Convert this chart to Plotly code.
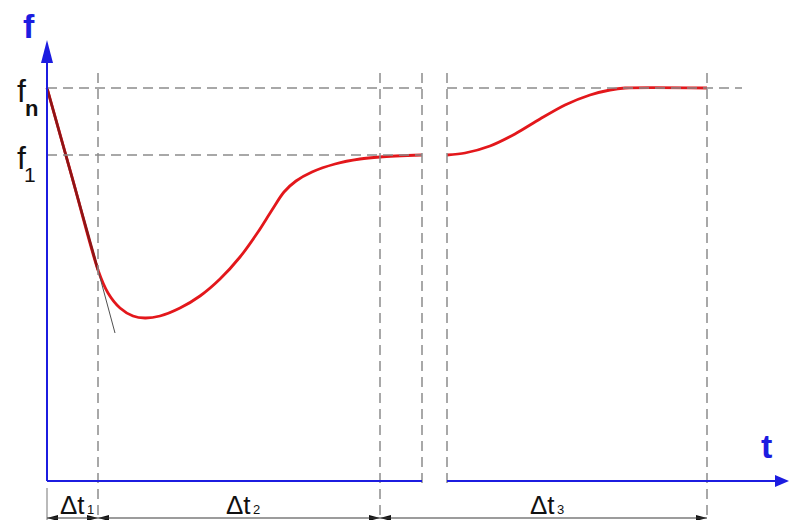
import plotly.graph_objects as go

# Response curve f(t): drop, recovery to f1, then (after the time break) rise to fn
t_curve1 = [0, 25, 51, 61, 73, 86, 98, 113, 133, 153, 173, 193, 211, 225, 237, 249, 265, 288, 313, 333, 375]
f_curve1 = [393, 304, 211, 188, 173, 165, 163, 165, 173, 185, 202, 224, 249, 271, 289, 300, 309, 317, 322, 324, 326]
t_curve2 = [400, 418, 443, 468, 493, 518, 543, 563, 578, 660]
f_curve2 = [326, 328, 335, 347, 362, 376, 386, 391, 393, 393]

# Tangent at the start of the drop
t_tangent = [0, 51, 68]
f_tangent = [393, 211, 148]

# Reference levels and time marks
f_levels = {"fn": 393, "f1": 326}
t_marks = [51, 333, 660]
t_break = [375, 400]
t_axis_end = 742
f_axis_end = 441
dim_f = -37

AX = "#1c1ce0"
GRID = "#8c8c8c"
RED = "#e3171b"

fig = go.Figure()


def tri(xs, ys, color):
    fig.add_trace(go.Scatter(x=xs, y=ys, fill="toself", fillcolor=color, mode="lines",
                             line=dict(color=color, width=0), hoverinfo="skip", showlegend=False))


def seg(x0, y0, x1, y1, color, width=1.5, dash=None):
    fig.add_shape(type="line", x0=x0, y0=y0, x1=x1, y1=y1, xref="x", yref="y",
                  line=dict(color=color, width=width, dash=dash))


dash = "10px,6px"
# horizontal guide lines
seg(0, f_levels["fn"], t_break[0], f_levels["fn"], GRID, dash=dash)
seg(t_break[1], f_levels["fn"], 695, f_levels["fn"], GRID, dash=dash)
seg(0, f_levels["f1"], t_break[0], f_levels["f1"], GRID, dash=dash)
# vertical guide lines
for tm in t_marks:
    seg(tm, 408, tm, -39, GRID, dash=dash)
for tb in t_break:
    seg(tb, 408, tb, -7, GRID, dash=dash)
seg(0, -7, 0, -39, GRID, width=1.2)

# axes
seg(0, 0, 0, f_axis_end - 20, AX, width=2)
seg(0, 0, t_break[0], 0, AX, width=2)
seg(t_break[1], 0, t_axis_end - 12, 0, AX, width=2)
tri([-6, 6, 0, -6], [f_axis_end - 23, f_axis_end - 23, f_axis_end, f_axis_end - 23], AX)
tri([t_axis_end - 14, t_axis_end - 14, t_axis_end, t_axis_end - 14], [-6, 6, 0, -6], AX)

# curves
fig.add_trace(go.Scatter(x=t_curve1, y=f_curve1, mode="lines", line=dict(color=RED, width=2.8, shape="spline", smoothing=0.9),
                         hoverinfo="skip", showlegend=False))
fig.add_trace(go.Scatter(x=t_curve2, y=f_curve2, mode="lines", line=dict(color=RED, width=2.8, shape="spline", smoothing=0.8),
                         hoverinfo="skip", showlegend=False))
fig.add_trace(go.Scatter(x=t_tangent[:2], y=f_tangent[:2], mode="lines", line=dict(color="#8e1416", width=2.6),
                         hoverinfo="skip", showlegend=False))
fig.add_trace(go.Scatter(x=t_tangent[1:], y=f_tangent[1:], mode="lines", line=dict(color="#505050", width=1),
                         hoverinfo="skip", showlegend=False))

# dimension line with arrows
seg(0, dim_f, t_marks[-1], dim_f, "#3a3a3a", width=1.2)
arr_len, arr_h = 11, 3
for tm in [0, t_marks[0], t_marks[1]]:
    tri([tm, tm + arr_len, tm + arr_len, tm], [dim_f, dim_f + arr_h, dim_f - arr_h, dim_f], "#111111")
for tm in t_marks:
    tri([tm, tm - arr_len, tm - arr_len, tm], [dim_f, dim_f + arr_h, dim_f - arr_h, dim_f], "#111111")


def label(t, f, text, size, color="#111111", bold=False, anchor="center"):
    fig.add_annotation(x=t, y=f, xref="x", yref="y", text=f"<b>{text}</b>" if bold else text,
                       showarrow=False, xanchor=anchor, yanchor="middle",
                       font=dict(family="Liberation Sans, Arial", size=size, color=color))


label(-18, 455, "f", 34, AX, bold=True)
label(719, 35, "t", 34, AX, bold=True)
label(-26, f_levels["fn"] - 3, "f", 32)
label(-16, f_levels["fn"] - 20, "n", 22, bold=True)
label(-26, f_levels["f1"] - 3, "f", 32)
label(-17, f_levels["f1"] - 19, "1", 21)

dt_x = [25, 191, 495]
for i, x in enumerate(dt_x):
    label(x, -24, "Δt", 26)
    label(x + 18, -28, str(i + 1), 13)

fig.update_layout(
    width=790, height=520, margin=dict(l=0, r=0, t=0, b=0),
    paper_bgcolor="white", plot_bgcolor="white",
    xaxis=dict(range=[-47, 743], visible=False, fixedrange=True),
    yaxis=dict(range=[-39, 481], visible=False, fixedrange=True),
    showlegend=False,
)
fig.write_html("out.html")
